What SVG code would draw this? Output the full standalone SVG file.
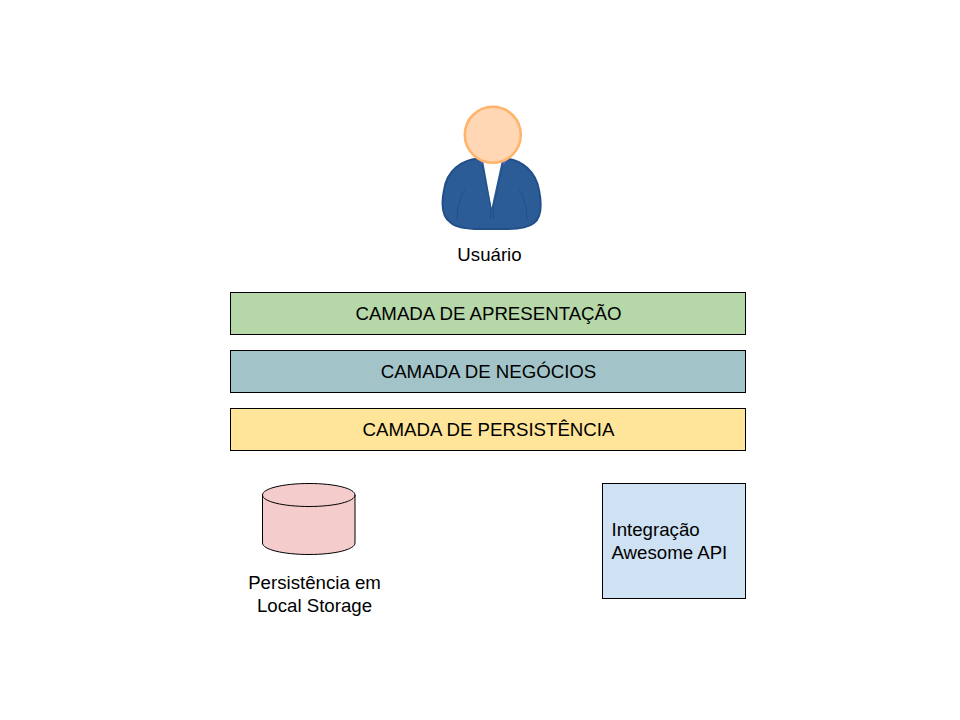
<svg xmlns="http://www.w3.org/2000/svg" width="960" height="720" viewBox="0 0 960 720">
<style>
text{font-family:"Liberation Sans",Arial,sans-serif;font-size:18.67px;fill:#000}
.c{text-anchor:middle}
.b{stroke:#000;stroke-width:1}
</style>
<rect width="960" height="720" fill="#fff"/>
<g id="connectors"/>
<g id="usuario">
<path d="M478 158.500C462 160 447 170 444 190C441 205 442 217 451 223C457 228 468 229 480 229L506 229C518 229 528 228 534 223C542 217 542 205 539 190C536 172 522 160 506 158.500Z" fill="#2c5c96" stroke="#234f88" stroke-width="2"/>
<path d="M483 160L491.500 208L502 160Z" fill="#fff"/>
<path d="M480 160L484 169L481 158.500ZM507 160L501 169L505 158.500Z" fill="#5a62d0"/>
<path d="M482 164L491 208L490.500 219M503 164L493 208L493.500 219M465 189C460 198 457 208 457 219M519 189C524 198 527 208 527 219" fill="none" stroke="#234f88" stroke-width="1"/>
<circle cx="492.800" cy="134.800" r="28" fill="#ffd7b5" stroke="#ffb36b" stroke-width="2.500"/>
<text class="c" x="489.500" y="261">Usuário</text>
</g>
<g id="apresentacao">
<rect class="b" x="230.500" y="292.500" width="515" height="42" fill="#b6d7a8"/>
<text class="c" x="488.500" y="320">CAMADA DE APRESENTAÇÃO</text>
</g>
<g id="negocios">
<rect class="b" x="230.500" y="350.500" width="515" height="42" fill="#a2c4c9"/>
<text class="c" x="488.500" y="378">CAMADA DE NEGÓCIOS</text>
</g>
<g id="persistencia">
<rect class="b" x="230.500" y="408.500" width="515" height="42" fill="#ffe599"/>
<text class="c" x="488.500" y="436">CAMADA DE PERSISTÊNCIA</text>
</g>
<g id="storage">
<path class="b" d="M262.500 495C262.500 488.500 283 483.500 309 483.500C335 483.500 355 488.500 355 495L355 543C355 549.500 335 554.500 309 554.500C283 554.500 262.500 549.500 262.500 543Z" fill="#f4cccc"/>
<path class="b" d="M262.500 495C262.500 501.500 283 506.500 309 506.500C335 506.500 355 501.500 355 495" fill="none"/>
<text class="c" x="314.500" y="589">Persistência em</text>
<text class="c" x="314.500" y="612">Local Storage</text>
</g>
<g id="api">
<rect class="b" x="602.500" y="483.500" width="143" height="115" fill="#cfe2f3"/>
<text x="611.500" y="536">Integração</text>
<text x="611.500" y="559">Awesome API</text>
</g>
</svg>
